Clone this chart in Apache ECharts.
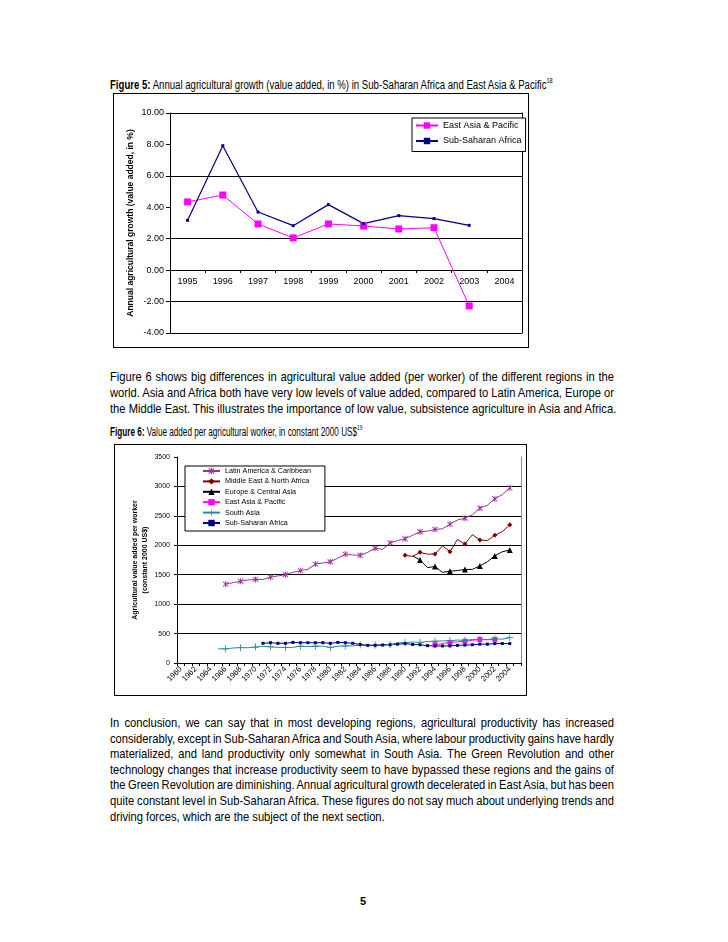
<!DOCTYPE html>
<html>
<head>
<meta charset="utf-8">
<script src="https://cdn.jsdelivr.net/npm/echarts@6/dist/echarts.min.js"></script>
<style>
  html, body { margin:0; padding:0; background:#fff; }
  body { width:728px; height:942px; position:relative; overflow:hidden; font-family:'Liberation Sans',Arial,sans-serif; color:#000; }
  .cap { position:absolute; left:110px; font-size:12px; white-space:nowrap; transform-origin:0 0; }
  .cap sup { font-size:7px; vertical-align:6px; line-height:0; }
  .para { position:absolute; left:110px; width:586px; font-size:13px; transform:scaleX(0.86); transform-origin:0 0; }
  .para div { white-space:nowrap; text-align:justify; text-align-last:justify; word-spacing:-2px; }
  .para div.last { text-align:left; text-align-last:left; word-spacing:0; }
  .frame { position:absolute; border:1px solid #000; box-sizing:border-box; }
  .chart { position:absolute; }
  .pnum { position:absolute; left:360px; top:895px; font-size:11px; font-weight:bold; }
</style>
</head>
<body>
<div class="cap" style="top:78px;transform:scaleX(0.80);"><b>Figure 5:</b> Annual agricultural growth (value added, in %) in Sub-Saharan Africa and East Asia &amp; Pacific<sup>18</sup></div>
<div class="frame" style="left:113px;top:93px;width:416px;height:255px;"></div>
<div id="c1" class="chart" style="left:113px;top:93px;width:416px;height:255px;"></div>

<div class="para" style="top:369px;line-height:16px;">
<div>Figure 6 shows big differences in agricultural value added (per worker) of the different regions in the</div>
<div>world. Asia and Africa both have very low levels of value added, compared to Latin America, Europe or</div>
<div class="last">the Middle East. This illustrates the importance of low value, subsistence agriculture in Asia and Africa.</div>
</div>

<div class="cap" style="top:425px;transform:scaleX(0.68);"><b>Figure 6:</b> Value added per agricultural worker, in constant 2000 US$<sup>19</sup></div>
<div class="frame" style="left:114px;top:444px;width:413px;height:252px;"></div>
<div id="c2" class="chart" style="left:114px;top:444px;width:413px;height:252px;"></div>

<div class="para" style="top:715px;line-height:15.6px;">
<div>In conclusion, we can say that in most developing regions, agricultural productivity has increased</div>
<div>considerably, except in Sub-Saharan Africa and South Asia, where labour productivity gains have hardly</div>
<div>materialized, and land productivity only somewhat in South Asia. The Green Revolution and other</div>
<div>technology changes that increase productivity seem to have bypassed these regions and the gains of</div>
<div>the Green Revolution are diminishing. Annual agricultural growth decelerated in East Asia, but has been</div>
<div>quite constant level in Sub-Saharan Africa. These figures do not say much about underlying trends and</div>
<div class="last">driving forces, which are the subject of the next section.</div>
</div>

<div class="pnum">5</div>

<script>
// ---------- Figure 5 data ----------
const fig5Years = ['1995','1996','1997','1998','1999','2000','2001','2002','2003','2004'];
const fig5EastAsia = [4.34, 4.78, 2.94, 2.05, 2.94, 2.81, 2.62, 2.70, -2.28, null];
const fig5SubSahara = [3.17, 7.92, 3.70, 2.83, 4.17, 2.96, 3.47, 3.28, 2.85, null];
const fig5YAxisTitle = 'Annual agricultural growth (value added, in %)';

// ---------- Figure 6 data ----------
const fig6Years = ['1960','1961','1962','1963','1964','1965','1966','1967','1968','1969',
  '1970','1971','1972','1973','1974','1975','1976','1977','1978','1979',
  '1980','1981','1982','1983','1984','1985','1986','1987','1988','1989',
  '1990','1991','1992','1993','1994','1995','1996','1997','1998','1999',
  '2000','2001','2002','2003','2004','2005'];
const latinAmericaStart = 1966;
const latinAmerica = [1340,1365,1390,1410,1420,1420,1460,1480,1500,1540,1570,1590,1680,1700,1720,1780,1850,1835,1830,1880,1950,1930,2040,2080,2110,2170,2230,2240,2270,2280,2360,2430,2460,2520,2630,2680,2790,2860,2975];
const middleEastStart = 1990;
const middleEast = [1830,1810,1880,1850,1850,1990,1890,2100,2020,2180,2090,2080,2170,2230,2350];
const europeStart = 1991;
const europe = [1820,1750,1620,1640,1540,1560,1570,1590,1590,1650,1720,1820,1890,1920];
const eastAsiaStart = 1994;
const eastAsia = [310,330,350,360,370,385,400,395,400];
const southAsiaStart = 1965;
const southAsia = [240,240,255,260,260,270,285,275,265,265,265,285,280,285,285,265,285,290,290,305,300,305,310,315,340,345,355,350,365,370,375,380,390,385,400,400,400,410,405,430];
const subSaharaStart = 1971;
const subSahara = [335,345,335,335,350,345,345,345,345,335,350,345,335,315,300,300,305,310,320,330,315,310,295,290,290,290,300,305,310,320,320,330,330,330];
const fig6YAxisTitle = 'Agricultural value added per worker\n(constant 2000 US$)';

function pad(start, vals) {
  const out = fig6Years.map(() => null);
  const off = fig6Years.indexOf(String(start));
  vals.forEach((v, i) => { out[off + i] = v; });
  return out;
}

const AX = 'Liberation Sans, Arial, sans-serif';

// ---------- Chart 1 ----------
const c1 = echarts.init(document.getElementById('c1'), null, {renderer:'canvas'});
c1.setOption({
  animation:false,
  grid:{left:57, top:20, right:7, bottom:15, containLabel:false, outerBoundsMode:'none'},
  legend:{
    orient:'vertical', left:299, top:25,
    backgroundColor:'#fff', borderColor:'#000', borderWidth:1,
    padding:[3,4,6,3], itemGap:6.5, itemWidth:22, itemHeight:8,
    textStyle:{fontSize:9, fontFamily:AX, color:'#000'},
    data:['East Asia & Pacific','Sub-Saharan Africa']
  },
  xAxis:{
    type:'category', data:fig5Years, boundaryGap:true,
    axisLine:{onZero:false, lineStyle:{color:'#000', width:1}},
    offset:-63,
    axisTick:{show:true, length:3, lineStyle:{color:'#000'}},
    axisLabel:{fontSize:9, fontFamily:AX, color:'#000', interval:0, margin:7},
    splitLine:{show:false}
  },
  yAxis:[{
    type:'value', min:-4, max:10, interval:2,
    name:fig5YAxisTitle, nameLocation:'middle', nameGap:35, nameRotate:90, nameMoveOverlap:false,
    nameTextStyle:{fontSize:8.5, fontWeight:'bold', fontFamily:AX, color:'#000'},
    axisLine:{show:true, lineStyle:{color:'#000'}},
    axisTick:{show:true, length:4, lineStyle:{color:'#000'}},
    axisLabel:{fontSize:9, fontFamily:AX, color:'#000', margin:6, formatter:v => v.toFixed(2)},
    splitLine:{show:true, lineStyle:{color:['#000','#000','transparent','#000','transparent','#000','transparent','#000'], width:1}}
  },{
    type:'value', min:-4, max:10, interval:2, position:'right',
    axisLine:{show:true, lineStyle:{color:'#000'}}, axisTick:{show:false}, axisLabel:{show:false}, splitLine:{show:false}
  }],
  series:[
    {name:'East Asia & Pacific', type:'line', data:fig5EastAsia, symbol:'rect', symbolSize:7,
     itemStyle:{color:'#ff00ff'}, lineStyle:{color:'#ff00ff', width:1}},
    {name:'Sub-Saharan Africa', type:'line', data:fig5SubSahara, symbol:'rect', symbolSize:3,
     itemStyle:{color:'#000080'}, lineStyle:{color:'#000080', width:1.2}}
  ]
});

// ---------- Chart 2 ----------
const asterisk = 'path://M4.3 0 L5.7 0 L5.7 10 L4.3 10 Z M0.5 1.5 L1.5 0.5 L9.5 8.5 L8.5 9.5 Z M8.5 0.5 L9.5 1.5 L1.5 9.5 L0.5 8.5 Z';
const plus = 'path://M4.4 0 L5.6 0 L5.6 4.4 L10 4.4 L10 5.6 L5.6 5.6 L5.6 10 L4.4 10 L4.4 5.6 L0 5.6 L0 4.4 L4.4 4.4 Z';
const c2 = echarts.init(document.getElementById('c2'), null, {renderer:'canvas'});
c2.setOption({
  animation:false,
  grid:{left:63, top:13, right:6, bottom:33, containLabel:false, outerBoundsMode:'none'},
  legend:{
    orient:'vertical', left:71, top:22,
    backgroundColor:'#fff', borderColor:'#000', borderWidth:1,
    padding:[1,14,4,17], itemGap:2.4, itemWidth:17, itemHeight:8,
    textStyle:{fontSize:7.2, fontFamily:AX, color:'#000', lineHeight:8},
    data:['Latin America & Caribbean','Middle East & North Africa','Europe & Central Asia','East Asia & Pacific','South Asia','Sub-Saharan Africa']
  },
  xAxis:{
    type:'category', data:fig6Years, boundaryGap:true,
    axisLine:{lineStyle:{color:'#000'}},
    axisTick:{show:true, length:3, interval:0, lineStyle:{color:'#000'}},
    axisLabel:{fontSize:7.8, fontFamily:AX, color:'#000', interval:1, rotate:45, margin:5},
    splitLine:{show:false}
  },
  yAxis:[{
    type:'value', min:0, max:3500, interval:500,
    name:fig6YAxisTitle, nameLocation:'middle', nameGap:26.5, nameRotate:90, nameMoveOverlap:false,
    nameTextStyle:{fontSize:7, fontWeight:'bold', fontFamily:AX, color:'#000', lineHeight:10.5},
    axisLine:{show:true, lineStyle:{color:'#000'}},
    axisTick:{show:true, length:3, lineStyle:{color:'#000'}},
    axisLabel:{fontSize:7, fontFamily:AX, color:'#000', margin:7, formatter:v => String(v)},
    splitLine:{show:true, lineStyle:{color:['transparent','#000','#000','#000','#000','#000','#000','transparent'], width:1}}
  },{
    type:'value', min:0, max:3500, interval:500, position:'right',
    axisLine:{show:true, lineStyle:{color:'#8c8c8c'}}, axisTick:{show:false}, axisLabel:{show:false}, splitLine:{show:false}
  }],
  series:[
    {name:'Latin America & Caribbean', type:'line', data:pad(latinAmericaStart, latinAmerica), symbol:asterisk, symbolSize:6,
     itemStyle:{color:'#993399'}, lineStyle:{color:'#993399', width:1}},
    {name:'Middle East & North Africa', type:'line', data:pad(middleEastStart, middleEast), symbol:'diamond', symbolSize:5,
     itemStyle:{color:'#800000'}, lineStyle:{color:'#800000', width:1}},
    {name:'Europe & Central Asia', type:'line', data:pad(europeStart, europe), symbol:'triangle', symbolSize:6,
     itemStyle:{color:'#000'}, lineStyle:{color:'#000', width:1}},
    {name:'East Asia & Pacific', type:'line', data:pad(eastAsiaStart, eastAsia), symbol:'rect', symbolSize:5,
     itemStyle:{color:'#ff00ff'}, lineStyle:{color:'#ff00ff', width:1}},
    {name:'South Asia', type:'line', data:pad(southAsiaStart, southAsia), symbol:plus, symbolSize:7,
     itemStyle:{color:'#2e8b8b'}, lineStyle:{color:'#2e8b8b', width:1}},
    {name:'Sub-Saharan Africa', type:'line', data:pad(subSaharaStart, subSahara), symbol:'rect', symbolSize:3,
     itemStyle:{color:'#000080'}, lineStyle:{color:'#000080', width:1}}
  ]
});
</script>
</body>
</html>
